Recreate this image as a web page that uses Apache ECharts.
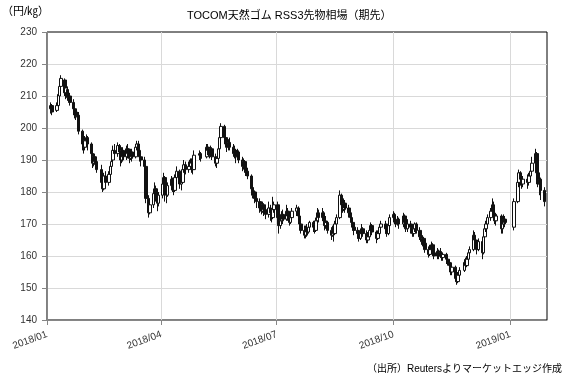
<!DOCTYPE html>
<html>
<head>
<meta charset="utf-8">
<script src="https://cdn.jsdelivr.net/npm/echarts@6/dist/echarts.min.js"></script>
<style>
  html, body { margin: 0; padding: 0; background: #fff; }
  #chart-rubber { width: 569px; height: 378px; }
</style>
</head>
<body>
<div id="chart-rubber"></div>
<script>
// 取引月と取引日
const months = ["2018-01", "2018-02", "2018-03", "2018-04", "2018-05", "2018-06", "2018-07",
  "2018-08", "2018-09", "2018-10", "2018-11", "2018-12", "2019-01"];
const tradeDays = [
  [4, 5, 9, 10, 11, 12, 15, 16, 17, 18, 19, 22, 23, 24, 25, 26, 29, 30, 31],
  [1, 2, 5, 6, 7, 8, 9, 13, 14, 15, 16, 19, 20, 21, 22, 23, 26, 27, 28],
  [1, 2, 5, 6, 7, 8, 9, 12, 13, 14, 15, 16, 19, 20, 22, 23, 26, 27, 28, 29, 30],
  [2, 3, 4, 5, 6, 9, 10, 11, 12, 13, 16, 17, 18, 19, 20, 23, 24, 25, 26, 27],
  [1, 2, 7, 8, 9, 10, 11, 14, 15, 16, 17, 18, 21, 22, 23, 24, 25, 28, 29, 30, 31],
  [1, 4, 5, 6, 7, 8, 11, 12, 13, 14, 15, 18, 19, 20, 21, 22, 25, 26, 27, 28, 29],
  [2, 3, 4, 5, 6, 9, 10, 11, 12, 13, 17, 18, 19, 20, 23, 24, 25, 26, 27, 30, 31],
  [1, 2, 3, 6, 7, 8, 9, 10, 13, 14, 15, 16, 17, 20, 21, 22, 23, 24, 27, 28, 29, 30, 31],
  [3, 4, 5, 6, 7, 10, 11, 12, 13, 14, 18, 19, 20, 21, 25, 26, 27, 28],
  [1, 2, 3, 4, 5, 9, 10, 11, 12, 15, 16, 17, 18, 19, 22, 23, 24, 25, 26, 29, 30, 31],
  [1, 2, 5, 6, 7, 8, 9, 12, 13, 14, 15, 16, 19, 20, 21, 22, 26, 27, 28, 29, 30],
  [3, 4, 5, 6, 7, 10, 11, 12, 13, 14, 17, 18, 19, 20, 21, 25, 26, 27, 28],
  [4, 7, 8, 9, 10, 11, 15, 16, 17, 18, 21, 22, 23, 24, 25, 28],
];

// [始値, 終値, 安値, 高値]
const prices = [
  // 2018/01
  [206, 207, 204.5, 208], [207, 205, 204, 207.5], [205.5, 207, 205, 208], [207, 210.5, 206.5, 211],
  [210, 213, 209.5, 214], [213, 215.5, 212, 216.5], [215, 211, 210, 215.5], [211, 212.5, 209, 213.5],
  [212, 209.5, 208.5, 213], [209.5, 210, 208, 211], [210, 208, 207, 211], [208, 206, 204, 209],
  [206, 205, 203, 207.5], [205, 203.5, 202.5, 206], [203.5, 204, 201, 205], [204, 199, 198, 205],
  [199, 195, 193, 199.5], [195, 194, 192, 197], [194, 196, 193, 197.5],
  // 2018/02
  [196, 197, 194, 198], [197, 195, 193, 197.5], [195, 192, 190.5, 195.5], [192, 189, 187.5, 193],
  [189, 191, 188, 192], [191, 189.5, 188.5, 192], [189.5, 187, 186, 190], [187, 183, 182, 188.5],
  [183, 181, 180, 184], [181, 185, 180.5, 186], [185, 183, 181.5, 186.5], [183, 185.5, 182, 186.5],
  [185.5, 188, 185, 189], [188, 189.5, 187, 190], [190, 193, 189, 194.5], [193, 192, 190, 195],
  [192, 194.5, 191, 195.5], [194.5, 192.5, 191, 195], [192.5, 190, 188, 193],
  // 2018/03
  [190, 193, 189, 194], [193, 191, 189.5, 194], [191, 193.5, 190, 194.5], [193.5, 192, 190.5, 195],
  [192, 190.5, 189, 193], [190.5, 192.5, 190, 193.5], [192.5, 191, 189.5, 193.5], [191, 194, 190.5, 195],
  [194, 195, 193, 196], [195, 193, 192, 196], [193, 191, 189.5, 193.5], [191, 190, 188, 192],
  [190, 188, 186, 191], [188, 178, 176.5, 188.5], [178, 173.5, 172, 179], [173.5, 176, 173, 177],
  [176, 179.5, 175, 180.5], [179.5, 181, 178, 183], [181, 178, 177, 182], [178, 176.5, 174, 179],
  [176.5, 179, 175.5, 180],
  // 2018/04
  [179, 182.5, 178, 184], [182.5, 184.5, 181, 186], [184.5, 180, 177, 185], [180, 179, 176.5, 181],
  [179, 182, 178.5, 183], [182, 184, 180.5, 185], [184, 181.5, 180, 184.5], [181.5, 180.5, 179, 183],
  [180.5, 184.5, 180, 185.5], [184.5, 186.5, 183, 188], [186.5, 182.5, 181, 187], [182.5, 183, 180.5, 184],
  [183, 187, 182.5, 188], [187, 188.5, 186, 190], [188.5, 187, 185.5, 189.5], [187, 188, 186, 189.5],
  [188, 190, 187, 190.5], [190, 189, 186, 190.5], [189, 187, 185.5, 189.5], [187, 191.5, 187, 193],
  // 2018/05
  [191.5, 192, 190, 193], [192, 190.5, 189.5, 192.5], [191, 194, 190.5, 195], [194, 193, 191.5, 195],
  [193, 191.5, 190.5, 194], [191.5, 193.5, 191, 194.5], [193.5, 191, 190, 194], [191, 189, 188, 192],
  [189, 190.5, 187.5, 191], [190.5, 193.5, 190, 194], [193.5, 197, 193, 198], [197, 200.5, 196, 201.5],
  [200.5, 197, 196, 201], [197, 195, 194, 198.5], [195, 194, 192.5, 196], [194, 195.5, 193, 196.5],
  [195.5, 194, 193, 197], [194, 192, 191, 195], [192, 193, 190.5, 194.5], [193, 191, 189, 193.5],
  [191, 192.5, 190, 193.5],
  // 2018/06
  [192.5, 190, 189, 193], [190, 188, 186.5, 191], [188, 189.5, 187, 190.5], [189.5, 187.5, 186, 190],
  [187.5, 186.5, 185, 188.5], [186.5, 185, 184, 187], [185, 181, 179.5, 185.5], [181, 179, 178, 182],
  [179, 180, 178, 181.5], [180, 178, 176.5, 180.5], [178, 177, 175, 179.5], [177, 175, 173.5, 178],
  [175, 174, 173, 176], [174, 176, 173.5, 177], [176, 174.5, 172.5, 176.5], [174.5, 173, 171.5, 175.5],
  [173, 175, 172, 177], [175, 173.5, 171, 176], [173.5, 172, 170.5, 174.5], [172, 174.5, 171.5, 178.5],
  [174.5, 176, 173.5, 177],
  // 2018/07
  [176, 172, 170.5, 177], [172, 169.5, 167, 173], [169.5, 171, 168.5, 172], [171, 173, 170, 174],
  [173, 171.5, 170, 174.5], [171.5, 174, 171, 176], [174, 172.5, 171, 175], [172.5, 170.5, 169.5, 173.5],
  [170.5, 172, 170, 173.5], [172, 174, 171, 175], [174, 175, 172.5, 176], [175, 172.5, 171.5, 175.5],
  [172.5, 170, 169, 173], [170, 168, 167, 171.5], [168, 166.5, 165.5, 169.5], [166.5, 168.5, 165.5, 169.5],
  [168.5, 167.5, 166, 170], [167.5, 169, 167, 170], [169, 170.5, 168, 171], [170.5, 169, 167.5, 171],
  [169, 168, 167, 170],
  // 2018/08
  [168, 171, 167.5, 172], [171, 173.5, 170, 175], [173.5, 172, 170.5, 174.5], [172, 173.5, 171, 175],
  [173.5, 171, 170, 174], [171, 169.5, 168, 172], [169.5, 170.5, 168.5, 172.5], [170.5, 168, 167, 171],
  [168, 166.5, 165, 169], [166.5, 168, 166, 169.5], [168, 167, 164.5, 168.5], [167, 170, 166.5, 171],
  [170, 172, 169, 173], [172, 179, 171.5, 180.5], [179, 176, 175, 179.5], [176, 174.5, 173.5, 177],
  [174.5, 176.5, 174, 178], [176.5, 175, 173.5, 177.5], [175, 173.5, 172, 176], [173.5, 172, 171, 174.5],
  [172, 170.5, 169.5, 173], [170.5, 169, 168, 171.5], [169, 168, 166.5, 170],
  // 2018/09
  [168, 167, 165.5, 169], [167, 165.5, 164.5, 168], [165.5, 167, 165, 168.5], [167, 168.5, 166, 170],
  [168.5, 167, 166, 169], [167, 165, 164, 168], [165, 166, 164, 167.5], [166, 168, 165, 169],
  [168, 169.5, 167, 170.5], [169.5, 167.5, 166.5, 170], [167.5, 165.5, 164, 168], [165.5, 167, 165, 168],
  [167, 169, 166.5, 170], [169, 170, 168, 171], [170, 168.5, 167, 171], [168.5, 167, 166, 169.5],
  [167, 169.5, 166.5, 170.5], [169.5, 172, 169, 173],
  // 2018/10
  [172, 173, 170.5, 174], [173, 171, 170, 173.5], [171, 170, 169, 172], [170, 171.5, 169.5, 172.5],
  [171.5, 170, 168.5, 172], [170, 172.5, 169, 173.5], [172.5, 170.5, 169.5, 173], [170.5, 168.5, 167.5, 171],
  [168.5, 170, 167.5, 171.5], [170, 169, 167, 171], [169, 167, 166, 170], [167, 168.5, 166, 169],
  [168.5, 170, 167.5, 170.5], [170, 168, 167, 170.5], [168, 166, 165, 169], [166, 164.5, 163.5, 167],
  [164.5, 165.5, 163, 166.5], [165.5, 164, 162.5, 166], [164, 162, 161, 165], [162, 160.5, 159.5, 163],
  [160.5, 162, 160, 163.5], [162, 163.5, 161, 164.5],
  // 2018/11
  [163.5, 161, 160, 164], [161, 160, 159, 162], [160, 161.5, 159, 162.5], [161.5, 160, 159, 162],
  [160, 161, 159.5, 162.5], [161, 159.5, 158.5, 161.5], [159.5, 160.5, 158.5, 161], [160.5, 159, 157.5, 161],
  [159, 158, 157, 160], [158, 157, 156, 158.5], [157, 155, 154, 158], [155, 156.5, 154, 158],
  [156.5, 153, 152, 157], [153, 152, 151, 154.5], [152, 154, 151.5, 155], [154, 155.5, 153.5, 156.5],
  [155.5, 158, 155, 159], [158, 157, 156, 159.5], [157, 159, 156.5, 160], [159, 161, 158.5, 162],
  [161, 162, 160, 163],
  // 2018/12
  [162, 166.5, 161.5, 168], [166.5, 165, 163.5, 167.5], [165, 163.5, 162.5, 166], [163.5, 162, 160.5, 164.5],
  [162, 164.5, 161.5, 165.5], [164.5, 161, 159, 165], [161, 166, 160.5, 167], [166, 168.5, 165, 169.5],
  [168.5, 170, 167.5, 171], [170, 172, 169.5, 173], [172, 174, 171, 175], [174, 176, 173, 178],
  [176, 173, 172, 177], [173, 171, 170, 174], [171, 172.5, 169.5, 173.5], [172.5, 168.5, 167, 173],
  [168.5, 170, 167, 171], [170, 171.5, 169, 173], [171.5, 170.5, 169, 172.5],
  // 2019/01
  [169, 177, 168, 178], [177, 183, 176.5, 184], [183, 186, 181.5, 187], [186, 184, 182, 186.5],
  [184, 182.5, 181, 185], [182.5, 184, 181.5, 185], [184, 183, 181, 185.5], [183, 185, 182, 186],
  [185, 186.5, 184, 187.5], [186.5, 189, 186, 191], [189, 192, 187, 193.5], [192, 186, 184.5, 192.5],
  [186, 182.5, 181.5, 187], [182.5, 184, 179, 185], [184, 180.5, 177.5, 184.5], [180.5, 177, 175.5, 181.5],
];

const xStart = "2018-01-01";
const xEnd = "2019-01-30";
const xTicks = ["2018-01-01", "2018-04-01", "2018-07-01", "2018-10-01", "2019-01-01"];
const yMin = 140;
const yMax = 230;
const yStep = 10;

const toTime = (s) => echarts.time.parse(s).getTime();
const dates = [];
months.forEach((m, i) => {
  tradeDays[i].forEach((d) => dates.push(m + "-" + String(d).padStart(2, "0")));
});
const candles = dates.map((d, i) => [toTime(d)].concat(prices[i]));
const tickValues = xTicks.map(toTime);

const fontFamily = "'Liberation Sans', 'Noto Sans CJK JP', sans-serif";
const myChart = echarts.init(document.getElementById("chart-rubber"), null, { renderer: "canvas" });

var option = {
  animation: false,
  backgroundColor: "#fff",
  textStyle: { fontFamily: fontFamily },
  title: [
    {
      text: "TOCOM天然ゴム RSS3先物相場（期先）",
      left: 182,
      top: 5,
      textStyle: { fontSize: 11, fontWeight: "normal", color: "#000", fontFamily: fontFamily },
    },
    {
      text: "（円/㎏）",
      left: -3,
      top: 1,
      textStyle: { fontSize: 11, fontWeight: "normal", color: "#000", fontFamily: fontFamily },
    },
    {
      text: "（出所）Reutersよりマーケットエッジ作成",
      right: 2,
      top: 359,
      textStyle: { fontSize: 10, fontWeight: "normal", color: "#000", fontFamily: fontFamily },
    },
  ],
  grid: {
    left: 47,
    right: 22,
    top: 32,
    bottom: 58,
    show: true,
    borderColor: "#000",
    borderWidth: 1,
    outerBoundsMode: "none",
  },
  xAxis: {
    type: "value",
    min: toTime(xStart),
    max: toTime(xEnd),
    axisLine: { lineStyle: { color: "#868686" } },
    axisTick: { customValues: tickValues, length: 5, lineStyle: { color: "#868686" } },
    axisLabel: {
      customValues: tickValues,
      rotate: 20,
      margin: 14,
      fontSize: 10,
      color: "#333",
      formatter: (v) => echarts.time.format(v, "{yyyy}/{MM}", false),
    },
    splitLine: { show: true, customValues: tickValues, lineStyle: { color: "#d9d9d9" } },
  },
  yAxis: {
    type: "value",
    min: yMin,
    max: yMax,
    interval: yStep,
    axisLine: { show: true, lineStyle: { color: "#868686" } },
    axisTick: { show: true, length: 5, lineStyle: { color: "#868686" } },
    axisLabel: { fontSize: 10, margin: 10, color: "#333" },
    splitLine: { show: true, showMaxLine: false, lineStyle: { color: "#d9d9d9" } },
  },
  series: [
    {
      type: "candlestick",
      data: candles,
      barWidth: 3,
      itemStyle: {
        color: "#fff",
        color0: "#111",
        borderColor: "#111",
        borderColor0: "#111",
        borderWidth: 1,
      },
    },
  ],
};

myChart.setOption(option);
</script>
</body>
</html>
